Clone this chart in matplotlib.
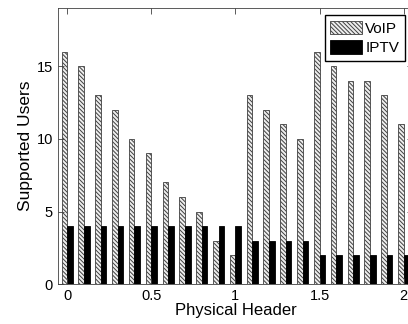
import matplotlib
matplotlib.use('Agg')
import matplotlib.pyplot as plt
import numpy as np

plt.rcParams['font.family'] = ['Liberation Sans', 'DejaVu Sans']
plt.rcParams['hatch.color'] = '#808080'
plt.rcParams['hatch.linewidth'] = 0.7

# physical header values (x) and supported users per service
header = [0.0, 0.1, 0.2, 0.3, 0.4, 0.5, 0.6, 0.7, 0.8, 0.9, 1.0,
          1.1, 1.2, 1.3, 1.4, 1.5, 1.6, 1.7, 1.8, 1.9, 2.0]
voip = [16, 15, 13, 12, 10, 9, 7, 6, 5, 3, 2,
        13, 12, 11, 10, 16, 15, 14, 14, 13, 11]
iptv = [4, 4, 4, 4, 4, 4, 4, 4, 4, 4, 4,
        3, 3, 3, 3, 2, 2, 2, 2, 2, 2]

fig = plt.figure(figsize=(4.08, 3.24), dpi=100)
ax = fig.add_axes([0.142, 0.123, 0.870, 0.852])

x = np.array(header)
w = 0.0333
ax.bar(x - w/2, voip, width=w, color='#eeeeee', edgecolor='#404040', linewidth=0.6,
       hatch='\\\\\\\\\\\\\\\\', label='VoIP')
ax.bar(x + w/2, iptv, width=w, color='black', edgecolor='black', linewidth=0.6,
       label='IPTV')

ax.set_xlim(-0.055, 2.055)
ax.set_ylim(0, 19)
ax.set_xticks([0, 0.5, 1, 1.5, 2])
ax.set_xticklabels(['0', '0.5', '1', '1.5', '2'])
ax.set_yticks([0, 5, 10, 15])
ax.tick_params(direction='in', top=True, right=True, length=4, labelsize=10.5,
               width=0.6, color='#404040')
for s in ax.spines.values():
    s.set_linewidth(0.6)
    s.set_color('#404040')

ax.set_xlabel('Physical Header', fontsize=12, labelpad=0)
ax.set_ylabel('Supported Users', fontsize=12.5, labelpad=3)

ax.legend(loc='upper right', bbox_to_anchor=(0.985, 0.985), fontsize=11,
          fancybox=False, edgecolor='black', framealpha=1,
          handlelength=2.1, handleheight=1.0, borderpad=0.35,
          labelspacing=0.3, handletextpad=0.2, borderaxespad=0.2)

plt.savefig('out.png', dpi=100)
